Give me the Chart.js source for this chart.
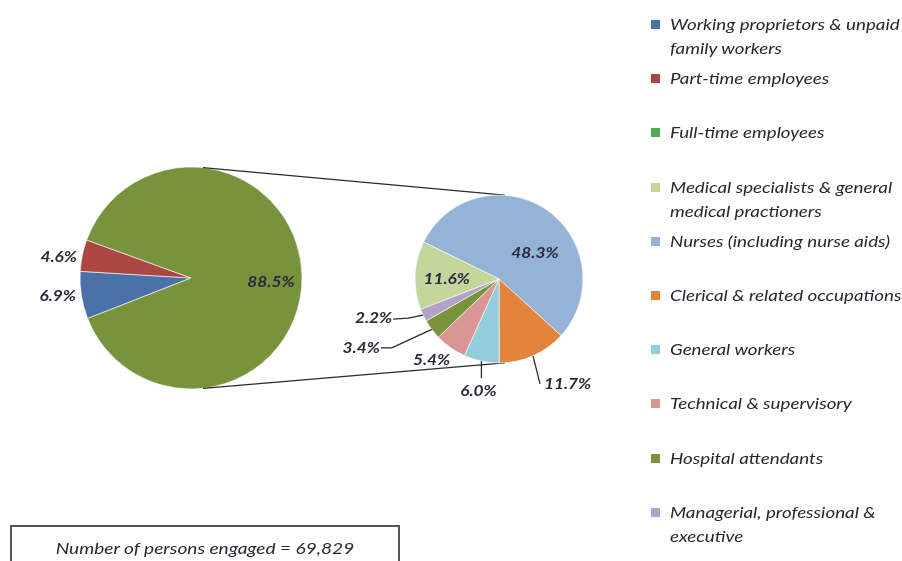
<!DOCTYPE html>
<html>
<head>
<meta charset="utf-8">
<script src="https://cdn.jsdelivr.net/npm/chart.js@4/dist/chart.umd.min.js"></script>
<style>
  html, body { margin: 0; padding: 0; background: #fff; }
  #wrap { position: relative; width: 902px; height: 561px; overflow: hidden; font-family: Lato, "Open Sans", sans-serif; }
  #wrap canvas { position: absolute; left: 0; top: 0; }
  #legend { position: absolute; left: 651px; top: 0; width: 251px; }
  .item { position: absolute; left: 0; font-style: italic; font-size: 15px; line-height: 24px; color: #272731; white-space: nowrap; }
  .item .box { position: absolute; left: 0; top: 8px; width: 9px; height: 9px; }
  .item .txt { position: absolute; left: 19px; top: 0; transform: scaleX(1.25); transform-origin: 0 0; }
  #total { position: absolute; left: 10px; top: 525px; width: 390px; height: 50px; border: 2px solid #555; box-sizing: border-box; }
  #total span { position: absolute; left: 0; right: 0; top: 12px; text-align: center; font-style: italic; font-size: 15.5px; color: #272731;
                transform: scaleX(1.23); }
</style>
</head>
<body>
<div id="wrap">
  <canvas id="mainPie" width="902" height="561"></canvas>
  <canvas id="detailPie" width="902" height="561"></canvas>
  <div id="legend"></div>
  <div id="total"><span></span></div>
</div>
<script>
// employment status, share of all persons engaged (%)
const mainLabels = ['Working proprietors & unpaid family workers', 'Part-time employees', 'Full-time employees'];
const mainValues = [6.9, 4.6, 88.5];

// full-time employees split by occupation (% of all persons engaged)
const detailLabels = [
  'Nurses (including nurse aids)',
  'Clerical & related occupations',
  'General workers',
  'Technical & supervisory',
  'Hospital attendants',
  'Managerial, professional & executive',
  'Medical specialists & general medical practioners'
];
const detailValues = [48.3, 11.7, 6.0, 5.4, 3.4, 2.2, 11.6];

// legend entries, top to bottom
const legendLabels = [
  ['Working proprietors & unpaid', 'family workers'],
  ['Part-time employees'],
  ['Full-time employees'],
  ['Medical specialists & general', 'medical practioners'],
  ['Nurses (including nurse aids)'],
  ['Clerical & related occupations'],
  ['General workers'],
  ['Technical & supervisory'],
  ['Hospital attendants'],
  ['Managerial, professional &', 'executive']
];
const totalPersons = 69829;

const mainColors = ['#4A72A8', '#AC4643', '#77933C'];
const detailColors = ['#95B3D7', '#E2843C', '#93CDDD', '#D99694', '#77933C', '#B3A2C7', '#C3D69B'];
const legendColors = ['#4A72A8', '#AC4643', '#4BAC50', '#C3D69B', '#95B3D7', '#E2843C', '#93CDDD', '#D99694', '#77933C', '#B3A2C7'];

const LABEL_FONT = 'italic bold 15px Lato, "Open Sans", sans-serif';
const LABEL_COLOR = '#2a2a3c';
const LABEL_STRETCH = 1.15;

// where each slice's percentage goes: inside at a fraction of the radius,
// or outside with an optional leader line (points relative to the arc edge)
const sliceLabels = {
  id: 'sliceLabels',
  afterDatasetsDraw(chart, args, opts) {
    const ctx = chart.ctx;
    const meta = chart.getDatasetMeta(0);
    const values = chart.data.datasets[0].data;
    ctx.save();
    ctx.font = LABEL_FONT;
    ctx.fillStyle = LABEL_COLOR;
    ctx.strokeStyle = '#2b2b2b';
    ctx.lineWidth = 1.3;
    ctx.textBaseline = 'middle';
    meta.data.forEach((arc, i) => {
      const p = opts.placements[i];
      const { x, y, startAngle, endAngle, outerRadius } = arc.getProps(['x', 'y', 'startAngle', 'endAngle', 'outerRadius'], true);
      const mid = (startAngle + endAngle) / 2;
      const r = outerRadius * p.r;
      const ax = x + Math.cos(mid) * r;
      const ay = y + Math.sin(mid) * r;
      if (p.leader) {
        ctx.beginPath();
        ctx.moveTo(ax, ay);
        p.leader.forEach(([dx, dy]) => ctx.lineTo(ax + dx, ay + dy));
        ctx.stroke();
      }
      ctx.save();
      ctx.translate(ax + p.dx, ay + p.dy);
      ctx.scale(LABEL_STRETCH, 1);
      ctx.textAlign = p.align || 'center';
      ctx.fillText(values[i].toFixed(1) + '%', 0, 0);
      ctx.restore();
    });
    ctx.restore();
  }
};

const pieOptions = (center, radius, rotation, placements) => ({
  responsive: false,
  animation: false,
  radius: radius,
  rotation: rotation,
  layout: {
    padding: {
      left: center[0] - radius - 10,
      right: 902 - center[0] - radius - 10,
      top: center[1] - radius - 10,
      bottom: 561 - center[1] - radius - 10
    }
  },
  events: [],
  plugins: {
    legend: { display: false },
    tooltip: { enabled: false },
    sliceLabels: { placements }
  }
});

const mainChart = new Chart(document.getElementById('mainPie'), {
  type: 'pie',
  data: {
    labels: mainLabels,
    datasets: [{ data: mainValues, backgroundColor: mainColors, borderColor: 'rgba(255,255,255,0.6)', borderWidth: 1 }]
  },
  options: pieOptions([191, 278], 111, 248.6, [
    { r: 1.05, dx: 0, dy: 0, align: 'right' },
    { r: 1.05, dx: 0, dy: 3, align: 'right' },
    { r: 0.72, dx: 0, dy: 5 }
  ]),
  plugins: [sliceLabels]
});

// lines joining the full-time slice to its breakdown
const connectors = {
  id: 'connectors',
  beforeDatasetsDraw(chart) {
    const a = mainChart.getDatasetMeta(0).data[2].getProps(['x', 'y', 'outerRadius'], true);
    const b = chart.getDatasetMeta(0).data[0].getProps(['x', 'y', 'outerRadius'], true);
    const ctx = chart.ctx;
    const toRad = d => d * Math.PI / 180;
    ctx.save();
    ctx.strokeStyle = '#2b2b2b';
    ctx.lineWidth = 1.3;
    [[276.2, 274], [83.8, 86]].forEach(([ta, tb]) => {
      ctx.beginPath();
      ctx.moveTo(a.x + Math.cos(toRad(ta)) * a.outerRadius, a.y + Math.sin(toRad(ta)) * a.outerRadius);
      ctx.lineTo(b.x + Math.cos(toRad(tb)) * b.outerRadius, b.y + Math.sin(toRad(tb)) * b.outerRadius);
      ctx.stroke();
    });
    ctx.restore();
  }
};

new Chart(document.getElementById('detailPie'), {
  type: 'pie',
  data: {
    labels: detailLabels,
    datasets: [{ data: detailValues, backgroundColor: detailColors, borderColor: 'rgba(255,255,255,0.6)', borderWidth: 1 }]
  },
  options: pieOptions([499, 279], 84, 296.1, [
    { r: 0.55, dx: 10, dy: 12 },
    { r: 1.0, dx: 11, dy: 28, align: 'left', leader: [[7, 28]] },
    { r: 1.0, dx: -3, dy: 30, leader: [[0, 17]] },
    { r: 1.0, dx: -19, dy: 13 },
    { r: 1.0, dx: -52, dy: 18.5, align: 'right', leader: [[-40, 18.5], [-51, 18.5]] },
    { r: 1.0, dx: -31, dy: 3, align: 'right', leader: [[-15, 3], [-30, 4]] },
    { r: 0.6, dx: -2, dy: 2 }
  ]),
  plugins: [sliceLabels, connectors]
});

// legend built from the same labels and colours
const legend = document.getElementById('legend');
legendLabels.forEach((lines, i) => {
  const item = document.createElement('div');
  item.className = 'item';
  item.style.top = (24 + i * 54.2 - 12) + 'px';
  const box = document.createElement('span');
  box.className = 'box';
  box.style.background = legendColors[i];
  const txt = document.createElement('span');
  txt.className = 'txt';
  lines.forEach((s, k) => {
    if (k) txt.appendChild(document.createElement('br'));
    txt.appendChild(document.createTextNode(s));
  });
  item.appendChild(box);
  item.appendChild(txt);
  legend.appendChild(item);
});

document.querySelector('#total span').textContent = 'Number of persons engaged = ' + totalPersons.toLocaleString('en-US');
</script>
</body>
</html>
